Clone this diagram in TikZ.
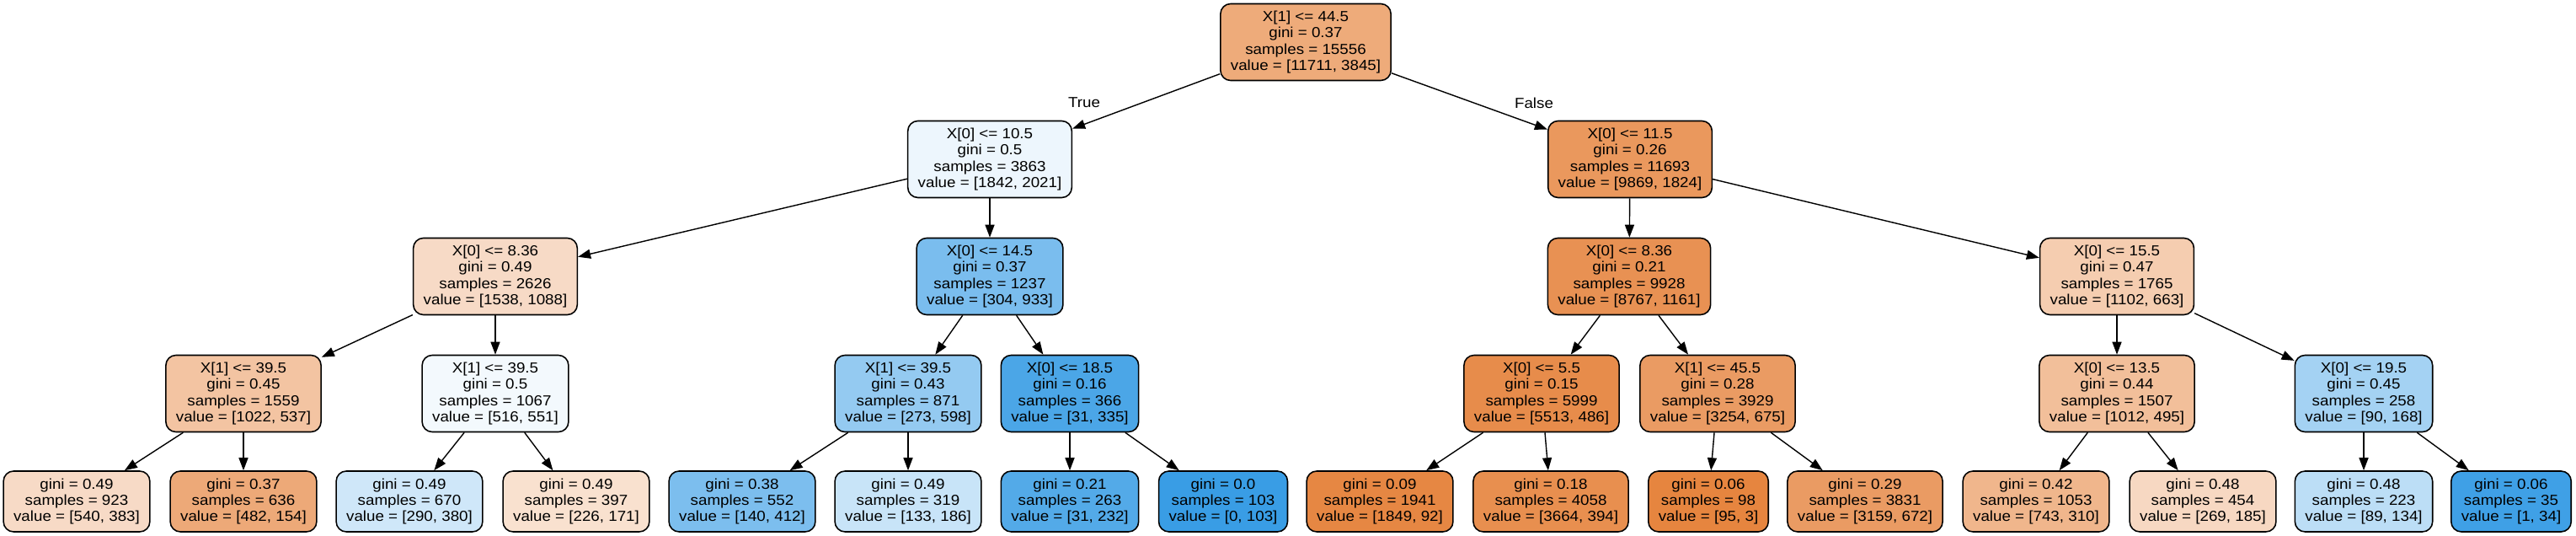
\documentclass[tikz,border=0pt]{standalone}
\usepackage{fontspec}
\setmainfont{Liberation Sans}[FakeStretch=1.09]
\usepackage{tikz}
\usetikzlibrary{arrows.meta}

\definecolor{orng}{HTML}{E58139}
\definecolor{blu}{HTML}{399DE5}

\tikzset{
        splitnode/.style = {draw, line width=0.45pt, rounded corners=0.12cm, align=center,
                            inner xsep=0.12cm, inner ysep=0pt, minimum height=0.91cm,
                            font=\fontsize{4.9}{5.47}\selectfont},
        leafnode/.style  = {splitnode, minimum height=0.72cm},
        ofill/.style     = {fill=orng!#1!white},
        bfill/.style     = {fill=blu!#1!white},
        edge/.style      = {line width=0.4pt, -{Triangle[length=0.15cm, width=0.11cm]}},
        lbl/.style       = {inner sep=0pt, font=\fontsize{4.9}{5.47}\selectfont}
}

\begin{document}
\begin{tikzpicture}[scale = 1.00]
        \useasboundingbox (0,0) rectangle (30.58,-6.36);

        % root and first split
        \node[splitnode, ofill=67] (root) at (15.50,-0.50) {X[1] <= 44.5\\gini = 0.37\\samples = 15556\\value = [11711, 3845]};
        \node[splitnode, bfill=9]  (l)    at (11.75,-1.89) {X[0] <= 10.5\\gini = 0.5\\samples = 3863\\value = [1842, 2021]};
        \node[splitnode, ofill=82] (r)    at (19.35,-1.89) {X[0] <= 11.5\\gini = 0.26\\samples = 11693\\value = [9869, 1824]};

        \node[lbl] (lbltrue)  at (12.87,-1.22) {True};
        \node[lbl] (lblfalse) at (18.21,-1.22) {False};

        % depth 2
        \node[splitnode, ofill=29] (ll) at (5.88,-3.28)  {X[0] <= 8.36\\gini = 0.49\\samples = 2626\\value = [1538, 1088]};
        \node[splitnode, bfill=67] (lr) at (11.75,-3.28) {X[0] <= 14.5\\gini = 0.37\\samples = 1237\\value = [304, 933]};
        \node[splitnode, ofill=87] (rl) at (19.34,-3.28) {X[0] <= 8.36\\gini = 0.21\\samples = 9928\\value = [8767, 1161]};
        \node[splitnode, ofill=40] (rr) at (25.13,-3.28) {X[0] <= 15.5\\gini = 0.47\\samples = 1765\\value = [1102, 663]};

        % depth 3
        \node[splitnode, ofill=47] (lll) at (2.89,-4.67)  {X[1] <= 39.5\\gini = 0.45\\samples = 1559\\value = [1022, 537]};
        \node[splitnode, bfill=6]  (llr) at (5.88,-4.67)  {X[1] <= 39.5\\gini = 0.5\\samples = 1067\\value = [516, 551]};
        \node[splitnode, bfill=54] (lrl) at (10.78,-4.67) {X[1] <= 39.5\\gini = 0.43\\samples = 871\\value = [273, 598]};
        \node[splitnode, bfill=91] (lrr) at (12.70,-4.67) {X[0] <= 18.5\\gini = 0.16\\samples = 366\\value = [31, 335]};
        \node[splitnode, ofill=91] (rll) at (18.30,-4.67) {X[0] <= 5.5\\gini = 0.15\\samples = 5999\\value = [5513, 486]};
        \node[splitnode, ofill=79] (rlr) at (20.39,-4.67) {X[1] <= 45.5\\gini = 0.28\\samples = 3929\\value = [3254, 675]};
        \node[splitnode, ofill=51] (rrl) at (25.13,-4.67) {X[0] <= 13.5\\gini = 0.44\\samples = 1507\\value = [1012, 495]};
        \node[splitnode, bfill=46] (rrr) at (28.06,-4.67) {X[0] <= 19.5\\gini = 0.45\\samples = 258\\value = [90, 168]};

        % leaves
        \node[leafnode, ofill=29]  (llll) at (0.91,-5.95)  {gini = 0.49\\samples = 923\\value = [540, 383]};
        \node[leafnode, ofill=68]  (lllr) at (2.89,-5.95)  {gini = 0.37\\samples = 636\\value = [482, 154]};
        \node[leafnode, bfill=24]  (llrl) at (4.86,-5.95)  {gini = 0.49\\samples = 670\\value = [290, 380]};
        \node[leafnode, ofill=24]  (llrr) at (6.84,-5.95)  {gini = 0.49\\samples = 397\\value = [226, 171]};
        \node[leafnode, bfill=66]  (lrll) at (8.81,-5.95)  {gini = 0.38\\samples = 552\\value = [140, 412]};
        \node[leafnode, bfill=28]  (lrlr) at (10.78,-5.95) {gini = 0.49\\samples = 319\\value = [133, 186]};
        \node[leafnode, bfill=87]  (lrrl) at (12.70,-5.95) {gini = 0.21\\samples = 263\\value = [31, 232]};
        \node[leafnode, bfill=100] (lrrr) at (14.52,-5.95) {gini = 0.0\\samples = 103\\value = [0, 103]};
        \node[leafnode, ofill=95]  (rlll) at (16.38,-5.95) {gini = 0.09\\samples = 1941\\value = [1849, 92]};
        \node[leafnode, ofill=89]  (rllr) at (18.41,-5.95) {gini = 0.18\\samples = 4058\\value = [3664, 394]};
        \node[leafnode, ofill=97]  (rlrl) at (20.28,-5.95) {gini = 0.06\\samples = 98\\value = [95, 3]};
        \node[leafnode, ofill=79]  (rlrr) at (22.14,-5.95) {gini = 0.29\\samples = 3831\\value = [3159, 672]};
        \node[leafnode, ofill=58]  (rrll) at (24.17,-5.95) {gini = 0.42\\samples = 1053\\value = [743, 310]};
        \node[leafnode, ofill=31]  (rrlr) at (26.15,-5.95) {gini = 0.48\\samples = 454\\value = [269, 185]};
        \node[leafnode, bfill=34]  (rrrl) at (28.06,-5.95) {gini = 0.48\\samples = 223\\value = [89, 134]};
        \node[leafnode, bfill=97]  (rrrr) at (29.81,-5.95) {gini = 0.06\\samples = 35\\value = [1, 34]};

        % edges
        \foreach \a/\b in {root/l, root/r, l/ll, l/lr, r/rl, r/rr,
                           ll/lll, ll/llr, lr/lrl, lr/lrr, rl/rll, rl/rlr, rr/rrl, rr/rrr,
                           lll/llll, lll/lllr, llr/llrl, llr/llrr, lrl/lrll, lrl/lrlr,
                           lrr/lrrl, lrr/lrrr, rll/rlll, rll/rllr, rlr/rlrl, rlr/rlrr,
                           rrl/rrll, rrl/rrlr, rrr/rrrl, rrr/rrrr}
            \draw[edge] (\a) -- (\b);

    \end{tikzpicture}
\end{document}
